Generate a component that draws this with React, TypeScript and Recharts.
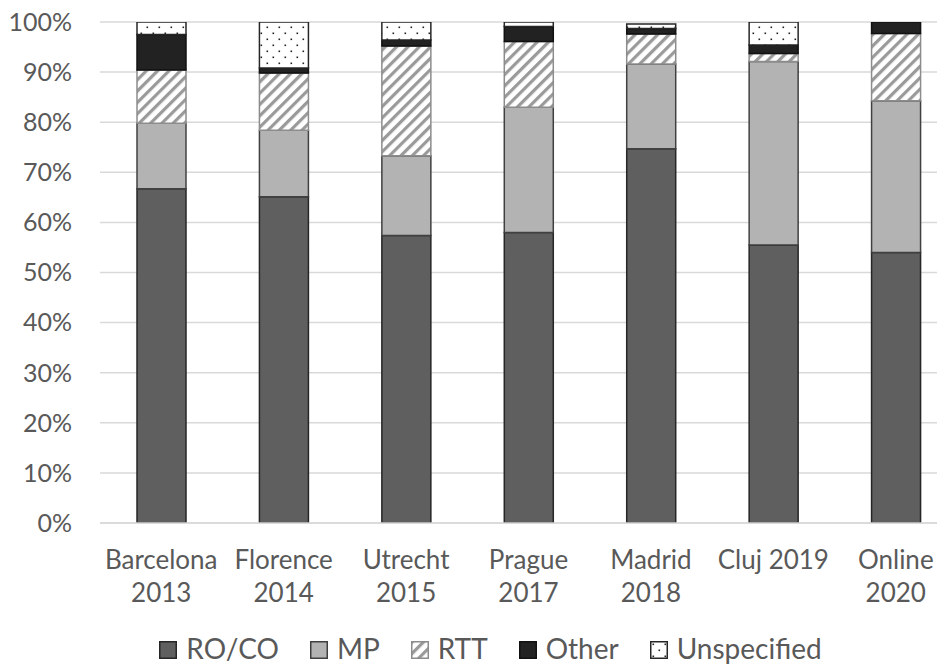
import React from "react";
import { BarChart, Bar, XAxis, YAxis, CartesianGrid, Legend } from "recharts";

const categories = ["Barcelona 2013", "Florence 2014", "Utrecht 2015", "Prague 2017", "Madrid 2018", "Cluj 2019", "Online 2020"];
const categoryLines = [["Barcelona", "2013"], ["Florence", "2014"], ["Utrecht", "2015"], ["Prague", "2017"], ["Madrid", "2018"], ["Cluj 2019"], ["Online", "2020"]];
const roco = [66.7, 65.1, 57.4, 58.0, 74.7, 55.5, 54.0];
const mp = [13.1, 13.3, 15.9, 25.0, 16.9, 36.6, 30.3];
const rtt = [10.6, 11.4, 21.9, 13.1, 6.0, 1.6, 13.4];
const other = [7.1, 1.0, 1.2, 3.0, 1.1, 1.7, 2.3];
const unspecified = [2.5, 9.2, 3.6, 0.9, 0.9, 4.6, 0];
const yTicks = [0, 10, 20, 30, 40, 50, 60, 70, 80, 90, 100];

const data = categories.map((c, i) => ({
  name: c,
  roco: roco[i],
  mp: mp[i],
  rtt: rtt[i],
  other: other[i],
  unspecified: unspecified[i],
}));

const FONT = "Lato, 'Open Sans', sans-serif";
const TEXT = "#595959";

const PatternDefs = ({ prefix }: { prefix: string }) => (
  <defs>
    <pattern id={`${prefix}-hatch`} width="8" height="8" patternUnits="userSpaceOnUse" patternTransform="rotate(45)">
      <rect width="8" height="8" fill="#ffffff" />
      <rect x="0" y="0" width="3.2" height="8" fill="#9a9a9a" />
    </pattern>
    <pattern id={`${prefix}-dots`} width="12" height="12" patternUnits="userSpaceOnUse">
      <rect width="12" height="12" fill="#ffffff" />
      <rect x="2.5" y="2.5" width="1.6" height="1.6" fill="#222" />
      <rect x="8.5" y="8.5" width="1.6" height="1.6" fill="#222" />
    </pattern>
  </defs>
);

const series = [
  { key: "roco", name: "RO/CO", fill: "#5f5f5f", stroke: "#262626" },
  { key: "mp", name: "MP", fill: "#b3b3b3", stroke: "#404040" },
  { key: "rtt", name: "RTT", fill: "url(#c-hatch)", stroke: "#8c8c8c", legendFill: "url(#l-hatch)" },
  { key: "other", name: "Other", fill: "#222222", stroke: "#111111" },
  { key: "unspecified", name: "Unspecified", fill: "url(#c-dots)", stroke: "#262626", legendFill: "url(#l-dots)" },
];

const CategoryTick = (props: any) => {
  const { x, y, index } = props;
  const lines = categoryLines[index] || [];
  return (
    <text x={x} y={y} textAnchor="middle" fill={TEXT} fontFamily={FONT} fontSize={26}>
      {lines.map((l, i) => (
        <tspan key={i} x={x} dy={i === 0 ? 46 : 33}>
          {l}
        </tspan>
      ))}
    </text>
  );
};

const LegendContent = () => (
  <div
    style={{
      height: 38,
      display: "flex",
      justifyContent: "center",
      alignItems: "center",
      fontFamily: FONT,
      fontSize: 28,
      color: TEXT,
      paddingLeft: 24,
      boxSizing: "border-box",
    }}
  >
    <svg width={0} height={0} style={{ position: "absolute" }}>
      <PatternDefs prefix="l" />
    </svg>
    {series.map((s, i) => (
      <div key={s.key} style={{ display: "flex", alignItems: "center", marginLeft: i === 0 ? 0 : 31 }}>
        <svg width={18} height={18} style={{ marginRight: 9, marginTop: 4 }}>
          <rect x={0.75} y={0.75} width={16.5} height={16.5} fill={s.legendFill || s.fill} stroke={s.stroke} strokeWidth={1.5} />
        </svg>
        <span style={{ lineHeight: "36px" }}>{s.name}</span>
      </div>
    ))}
  </div>
);

export default function App() {
  return (
    <div style={{ width: 945, height: 665, overflow: "hidden", position: "relative", margin: "-8px 0 0 -8px" }}>
      <BarChart
        width={957}
        height={665}
        data={data}
        margin={{ top: 22, right: 0, bottom: -2, left: 0 }}
        barSize={49}
      >
        <PatternDefs prefix="c" />
        <CartesianGrid vertical={false} stroke="#d9d9d9" strokeWidth={1.5} />
        <XAxis
          dataKey="name"
          height={106}
          tickLine={false}
          tickSize={0}
          tickMargin={0}
          axisLine={{ stroke: "#d9d9d9", strokeWidth: 1.5 }}
          tick={<CategoryTick />}
          interval={0}
        />
        <YAxis
          width={100}
          domain={[0, 100]}
          ticks={yTicks}
          allowDataOverflow
          axisLine={false}
          tickLine={false}
          tickSize={0}
          tickMargin={28}
          tickFormatter={(v: number) => `${v}%`}
          tick={{ fill: TEXT, fontFamily: FONT, fontSize: 25 }}
        />
        <Legend verticalAlign="bottom" content={<LegendContent />} />
        {series.map((s) => (
          <Bar
            key={s.key}
            dataKey={s.key}
            name={s.name}
            stackId="a"
            fill={s.fill}
            stroke={s.stroke}
            strokeWidth={1.5}
            isAnimationActive={false}
          />
        ))}
      </BarChart>
    </div>
  );
}
